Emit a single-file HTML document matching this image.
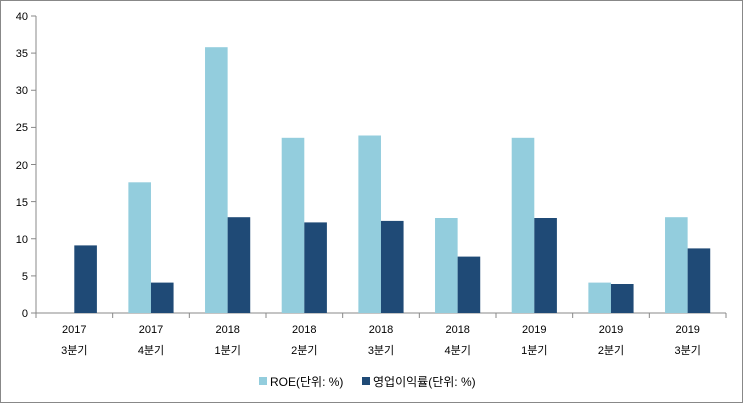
<!DOCTYPE html>
<html><head><meta charset="utf-8"><style>
body{margin:0;background:#fff}
svg{display:block}
text{font-family:"Liberation Sans","Noto Sans CJK KR",sans-serif;font-size:11px;fill:#000}
.lg{font-size:12px}
</style></head><body>
<svg width="743" height="403" xmlns="http://www.w3.org/2000/svg">
<rect x="0.5" y="0.5" width="742" height="402" fill="#fff" stroke="#888"/>
<g stroke="#888">
<line x1="36" x2="36" y1="16" y2="313"/><line x1="36" x2="726" y1="313" y2="313"/>
<line x1="31" x2="36" y1="313" y2="313"/><line x1="31" x2="36" y1="275.9" y2="275.9"/><line x1="31" x2="36" y1="238.75" y2="238.75"/><line x1="31" x2="36" y1="201.6" y2="201.6"/><line x1="31" x2="36" y1="164.5" y2="164.5"/><line x1="31" x2="36" y1="127.4" y2="127.4"/><line x1="31" x2="36" y1="90.25" y2="90.25"/><line x1="31" x2="36" y1="53.1" y2="53.1"/><line x1="31" x2="36" y1="16" y2="16"/>
<line x1="36" x2="36" y1="313" y2="318"/><line x1="112.67" x2="112.67" y1="313" y2="318"/><line x1="189.33" x2="189.33" y1="313" y2="318"/><line x1="266" x2="266" y1="313" y2="318"/><line x1="342.67" x2="342.67" y1="313" y2="318"/><line x1="419.33" x2="419.33" y1="313" y2="318"/><line x1="496" x2="496" y1="313" y2="318"/><line x1="572.67" x2="572.67" y1="313" y2="318"/><line x1="649.33" x2="649.33" y1="313" y2="318"/><line x1="726" x2="726" y1="313" y2="318"/>
</g>
<g text-anchor="end">
<text x="28" y="317">0</text><text x="28" y="280">5</text><text x="28" y="243">10</text><text x="28" y="206">15</text><text x="28" y="169">20</text><text x="28" y="131">25</text><text x="28" y="94">30</text><text x="28" y="57">35</text><text x="28" y="20">40</text>
</g>
<g fill="#93CDDD">
<rect x="128.37" y="182.3" width="22.6" height="130.7"/>
<rect x="205.03" y="47.2" width="22.6" height="265.8"/>
<rect x="281.7" y="137.8" width="22.6" height="175.2"/>
<rect x="358.37" y="135.5" width="22.6" height="177.5"/>
<rect x="435.03" y="218" width="22.6" height="95"/>
<rect x="511.7" y="137.8" width="22.6" height="175.2"/>
<rect x="588.37" y="282.6" width="22.6" height="30.4"/>
<rect x="665.03" y="217.2" width="22.6" height="95.8"/>
</g>
<g fill="#1F4A76">
<rect x="74.3" y="245.4" width="22.6" height="67.6"/>
<rect x="150.97" y="282.6" width="22.6" height="30.4"/>
<rect x="227.63" y="217.2" width="22.6" height="95.8"/>
<rect x="304.3" y="222.4" width="22.6" height="90.6"/>
<rect x="380.97" y="220.9" width="22.6" height="92.1"/>
<rect x="457.63" y="256.6" width="22.6" height="56.4"/>
<rect x="534.3" y="218" width="22.6" height="95"/>
<rect x="610.97" y="284" width="22.6" height="29"/>
<rect x="687.63" y="248.4" width="22.6" height="64.6"/>
</g>
<g text-anchor="middle">
<text x="74.3" y="333">2017</text><text x="74.3" y="354">3분기</text>
<text x="151" y="333">2017</text><text x="151" y="354">4분기</text>
<text x="227.7" y="333">2018</text><text x="227.7" y="354">1분기</text>
<text x="304.3" y="333">2018</text><text x="304.3" y="354">2분기</text>
<text x="381" y="333">2018</text><text x="381" y="354">3분기</text>
<text x="457.7" y="333">2018</text><text x="457.7" y="354">4분기</text>
<text x="534.3" y="333">2019</text><text x="534.3" y="354">1분기</text>
<text x="611" y="333">2019</text><text x="611" y="354">2분기</text>
<text x="687.7" y="333">2019</text><text x="687.7" y="354">3분기</text>
</g>
<rect x="259" y="377" width="8" height="8" fill="#93CDDD"/><text class="lg" x="270" y="386">ROE(단위: %)</text>
<rect x="362" y="377" width="8" height="8" fill="#1F4A76"/><text class="lg" x="373" y="386">영업이익률(단위: %)</text>
</svg>
</body></html>
